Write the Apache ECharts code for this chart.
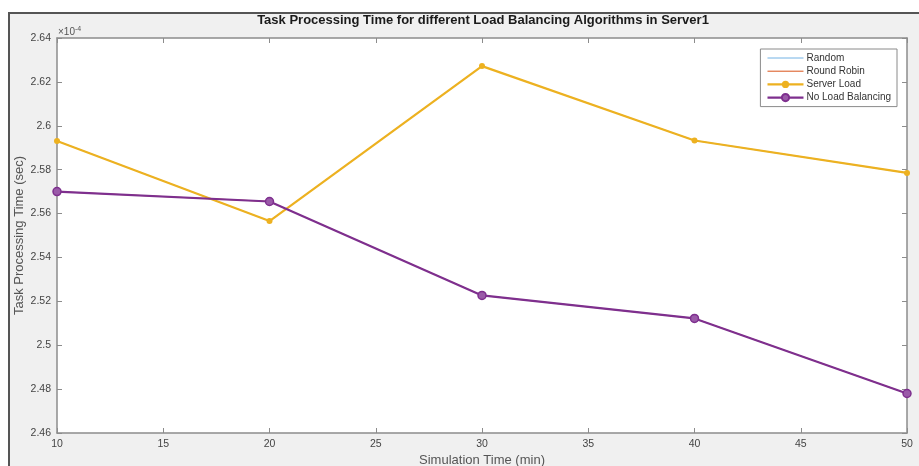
<!DOCTYPE html>
<html>
<head>
<meta charset="utf-8">
<script src="https://cdn.jsdelivr.net/npm/echarts@6/dist/echarts.min.js"></script>
<style>
  html, body { margin: 0; padding: 0; background: #ffffff; }
  #frame {
    position: absolute; left: 8px; top: 12px; width: 930px; height: 470px;
    background: #f0f0f0; border-left: 2px solid #555555; border-top: 2px solid #555555;
  }
  #chart { position: absolute; left: 0; top: 0; width: 919px; height: 466px; }
</style>
</head>
<body>
<div id="frame"></div>
<div id="chart"></div>
<script>
// Simulation time (min) on the x axis
const simTime = [10, 20, 30, 40, 50];
// Task processing time, in units of 1e-4 s
const random = [2.5931, 2.5566, 2.6272, 2.5933, 2.5785];
const roundRobin = [2.5700, 2.5655, 2.5227, 2.5122, 2.4780];
const serverLoad = [2.5931, 2.5566, 2.6272, 2.5933, 2.5785];
const noLoadBalancing = [2.5700, 2.5655, 2.5227, 2.5122, 2.4780];
const seriesNames = ['Random', 'Round Robin', 'Server Load', 'No Load Balancing'];

const yMin = 2.46, yMax = 2.64, yStep = 0.02;
const xMin = 10, xMax = 50, xStep = 5;

const pairs = arr => simTime.map((t, i) => [t, arr[i]]);
const font = '"Liberation Sans", Arial, sans-serif';
const axisGray = '#8c8c8c';
const textGray = '#444444';
const nameGray = '#555555';

const colors = {
  random: '#72b2e4',
  roundRobin: '#d95319',
  serverLoad: '#edb120',
  noLoad: '#7e2f8e'
};

const baseX = {
  type: 'value', min: xMin, max: xMax, interval: xStep,
  axisLine: { show: true, lineStyle: { color: axisGray, width: 1.5 } },
  axisTick: { show: true, inside: true, length: 5, lineStyle: { color: axisGray, width: 1 } },
  splitLine: { show: false }
};
const baseY = {
  type: 'value', min: yMin, max: yMax, interval: yStep,
  axisLine: { show: true, lineStyle: { color: axisGray, width: 1.5 } },
  axisTick: { show: true, inside: true, length: 5, lineStyle: { color: axisGray, width: 1 } },
  splitLine: { show: false }
};

const chart = echarts.init(document.getElementById('chart'), null, { renderer: 'canvas' });
chart.setOption({
  backgroundColor: 'transparent',
  animation: false,
  title: {
    text: 'Task Processing Time for different Load Balancing Algorithms in Server1',
    left: 478, top: 9, textAlign: 'center',
    textStyle: { fontFamily: font, fontSize: 13, fontWeight: 'bold', color: '#1a1a1a' }
  },
  graphic: [{
    type: 'text', left: 58, top: 26,
    style: {
      text: '×10{s|-4}', fontFamily: font, fontSize: 10, fill: '#555555',
      rich: { s: { fontSize: 7, fill: '#555555', verticalAlign: 'top', padding: [0, 0, 5, 0] } }
    }
  }],
  grid: {
    left: 57, right: 12, top: 38, bottom: 33,
    outerBoundsMode: 'none',
    show: true, backgroundColor: '#ffffff', borderWidth: 0
  },
  legend: {
    data: [
      { name: 'Random', itemStyle: { opacity: 0 }, lineStyle: { width: 1 } },
      { name: 'Round Robin', itemStyle: { opacity: 0 }, lineStyle: { width: 1 } },
      { name: 'Server Load', lineStyle: { width: 2.2 } },
      { name: 'No Load Balancing', lineStyle: { width: 2.2 } }
    ],
    orient: 'vertical', right: 22, top: 49,
    backgroundColor: '#ffffff', borderColor: '#8a8a8a', borderWidth: 1,
    padding: [4, 6, 4, 6], itemGap: 3.2, itemWidth: 36, itemHeight: 9,
    textStyle: { fontFamily: font, fontSize: 10, color: '#333333', padding: [0, 0, 0, -2] }
  },
  xAxis: [
    Object.assign({}, baseX, {
      position: 'bottom',
      name: 'Simulation Time (min)', nameLocation: 'middle', nameGap: 21,
      nameMoveOverlap: false,
      nameTextStyle: { fontFamily: font, fontSize: 13, color: nameGray },
      axisLabel: { show: true, margin: 6, fontFamily: font, fontSize: 10.5, color: textGray }
    }),
    Object.assign({}, baseX, { position: 'top', axisLabel: { show: false } })
  ],
  yAxis: [
    Object.assign({}, baseY, {
      position: 'left',
      name: 'Task Processing Time (sec)', nameLocation: 'middle', nameGap: 31,
      nameMoveOverlap: false,
      nameTextStyle: { fontFamily: font, fontSize: 13, color: nameGray },
      axisLabel: {
        show: true, margin: 6, fontFamily: font, fontSize: 10.5, color: textGray,
        formatter: v => String(parseFloat(v.toFixed(2)))
      }
    }),
    Object.assign({}, baseY, { position: 'right', axisLabel: { show: false } })
  ],
  series: [
    {
      name: 'Random', type: 'line', data: pairs(random), z: 1,
      symbol: 'none',
      itemStyle: { color: colors.random },
      lineStyle: { color: colors.random, width: 1 }
    },
    {
      name: 'Round Robin', type: 'line', data: pairs(roundRobin), z: 1,
      symbol: 'none',
      itemStyle: { color: colors.roundRobin },
      lineStyle: { color: colors.roundRobin, width: 1 }
    },
    {
      name: 'Server Load', type: 'line', data: pairs(serverLoad), z: 3,
      symbol: 'circle', symbolSize: 6,
      itemStyle: { color: colors.serverLoad },
      lineStyle: { color: colors.serverLoad, width: 2.2 }
    },
    {
      name: 'No Load Balancing', type: 'line', data: pairs(noLoadBalancing), z: 4,
      symbol: 'circle', symbolSize: 8,
      itemStyle: { color: '#9a5aa8', borderColor: colors.noLoad, borderWidth: 1.5 },
      lineStyle: { color: colors.noLoad, width: 2.2 }
    }
  ]
});
</script>
</body>
</html>
